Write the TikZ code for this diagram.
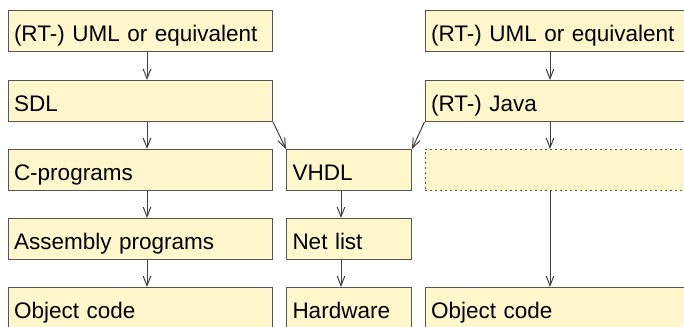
\documentclass[tikz,border=0pt]{standalone}
\usepackage{fontspec}
\setmainfont{Liberation Sans}
\usetikzlibrary{arrows.meta}
\definecolor{boxfill}{RGB}{255,247,204}
\definecolor{boxline}{RGB}{85,85,85}
\begin{document}
\begin{tikzpicture}[x=0.5pt, y=-0.5pt,
    font=\fontsize{11.25pt}{13pt}\selectfont,
    box/.style ={draw=boxline, fill=boxfill, line width=0.5pt, anchor=north west,
                 align=left, inner xsep=3pt, inner ysep=0pt,
                 text height=15.5pt, text depth=5pt, text width=#1},
    dbox/.style={box=#1, dash pattern=on 0.9pt off 1.6pt},
    arr/.style ={-{Straight Barb[length=4.8pt, width=3.8pt]}, line width=0.5pt,
                 draw=black!75},
  ]
  \useasboundingbox (0,0) rectangle (684,326);
  \clip (0,0) rectangle (684,326);
  % left column: software path
  \node[box=126.25pt] (umll) at (7.5,10)  {(RT-) UML or equivalent};
  \node[box=126.25pt] (sdl)  at (7.5,80)  {SDL};
  \node[box=126.25pt] (cpr)  at (7.5,149) {C-programs};
  \node[box=126.25pt] (asm)  at (7.5,218) {Assembly programs};
  \node[box=126.25pt] (objl) at (7.5,287) {Object code};
  % middle column: hardware path
  \node[box=56.5pt] (vhdl) at (286,149) {VHDL};
  \node[box=56.5pt] (net)  at (286,218) {Net list};
  \node[box=56.5pt] (hw)   at (286,287) {Hardware};
  % right column: Java path
  \node[box=131.75pt]  (umlr) at (424.5,10)  {(RT-) UML or equivalent};
  \node[box=131.75pt]  (java) at (424.5,80)  {(RT-) Java};
  \node[dbox=131.75pt] (gap)  at (424.5,149) {};
  \node[box=131.75pt]  (objr) at (424.5,287) {Object code};
  % arrow columns
  \coordinate (lx) at (147,0);
  \coordinate (mx) at (341,0);
  \coordinate (rx) at (550,0);
  \draw[arr] (umll.south -| lx) -- (sdl.north -| lx);
  \draw[arr] (sdl.south -| lx)  -- (cpr.north -| lx);
  \draw[arr] (cpr.south -| lx)  -- (asm.north -| lx);
  \draw[arr] (asm.south -| lx)  -- (objl.north -| lx);
  \draw[arr] (sdl.south east)   -- (vhdl.north west);
  \draw[arr] (java.south west)  -- (vhdl.north east);
  \draw[arr] (vhdl.south -| mx) -- (net.north -| mx);
  \draw[arr] (net.south -| mx)  -- (hw.north -| mx);
  \draw[arr] (umlr.south -| rx) -- (java.north -| rx);
  \draw[arr] (java.south -| rx) -- (gap.north -| rx);
  \draw[arr] (gap.south -| rx)  -- (objr.north -| rx);
\end{tikzpicture}
\end{document}
